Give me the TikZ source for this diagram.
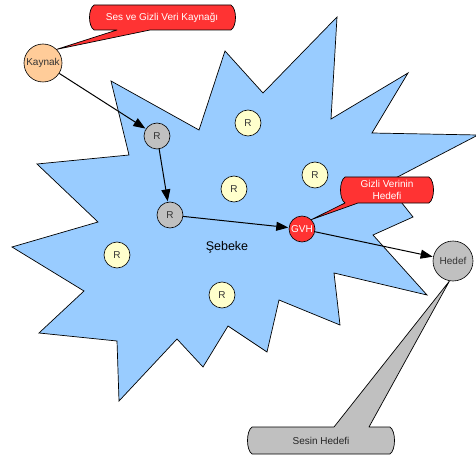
\documentclass[tikz,border=0pt]{standalone}
\usepackage{fontspec}
\setmainfont{Liberation Sans}
\usetikzlibrary{arrows.meta}
\definecolor{netblue}{HTML}{99CCFF}
\definecolor{routergray}{HTML}{C0C0C0}
\definecolor{idleyellow}{HTML}{FFFFCC}
\definecolor{srcorange}{HTML}{FFCC99}
\definecolor{noteRed}{HTML}{FF3333}
\tikzset{
  dev/.style={circle, draw=black, line width=0.6pt, inner sep=0pt,
    minimum size=26pt, font=\fontsize{10}{12}\selectfont, text=black!80},
  idle/.style={dev, fill=idleyellow},
  hop/.style={dev, fill=routergray},
  flow/.style={draw=black, line width=1pt,
    -{Triangle[length=12pt,width=9pt]}, shorten >=0.5pt},
  plain/.style={draw=black, line width=1pt},
  note/.style={draw=black, line width=0.7pt, line join=round},
  notetext/.style={font=\fontsize{10}{11.5}\selectfont, align=center, inner sep=0pt}
}
\begin{document}
\begin{tikzpicture}[x=1pt,y=-1pt]
\useasboundingbox (0,0) rectangle (476,457);

% network cloud
\draw[fill=netblue, draw=black, line width=0.7pt, line join=miter]
  (111,81) -- (199,130) -- (225,51) -- (263,93) -- (337,17) -- (331,119)
  -- (408,73) -- (372,133) -- (478,135) -- (386,183) -- (413,217)
  -- (373,235) -- (427,295) -- (334,273) -- (340,325) -- (279,300)
  -- (267,352) -- (228,326) -- (203,367) -- (177,339) -- (119,401)
  -- (117,341) -- (39,333) -- (84,291) -- (12,247) -- (98,222)
  -- (37,164) -- (129,155) -- cycle;

\node[font=\fontsize{12.5}{14}\selectfont] (net) at (227,247) {Şebeke};

% devices
\node[dev, fill=srcorange, minimum size=38pt] (kaynak) at (43,63) {Kaynak};
\node[hop] (r1) at (157,136) {R};
\node[hop] (r2) at (170,215) {R};
\node[dev, fill=noteRed, text=white] (gvh) at (302,229) {GVH};
\node[dev, fill=routergray, minimum size=40pt] (hedef) at (453,261) {Hedef};
\node[idle] (ra) at (248,123) {R};
\node[idle] (rb) at (234,189) {R};
\node[idle] (rc) at (315,175) {R};
\node[idle] (rd) at (117,255) {R};
\node[idle] (re) at (222,295) {R};

% traffic path
\draw[flow] (kaynak) -- (r1);
\draw[flow] (r1) -- (r2);
\draw[flow] (r2) -- (gvh);
\draw[flow] (gvh) -- (hedef);

% callouts
\draw[note, fill=noteRed]
  (94,5) -- (231,5) .. controls (237,9) and (237,26) .. (231,30)
  -- (150,30) -- (kaynak.45) -- (117,30) -- (94,30)
  .. controls (88,26) and (88,9) .. (94,5) -- cycle;
\node[notetext, text=white] (srcnote) at (162,17.5) {Ses ve Gizli Veri Kaynağı};

\draw[note, fill=noteRed]
  (345,177) -- (429,177) .. controls (435,181) and (435,199) .. (429,203)
  -- (358,203) -- (gvh.45) -- (345,203)
  .. controls (339,199) and (339,181) .. (345,177) -- cycle;
\node[notetext, text=white] (gvhnote) at (387,190) {Gizli Verinin\\Hedefi};

\draw[note, fill=routergray]
  (252,427) -- (334,427) -- (hedef.-100) -- (369,427) -- (390,427)
  .. controls (396,431) and (396,450) .. (390,454) -- (252,454)
  .. controls (246,450) and (246,431) .. (252,427) -- cycle;
\node[notetext, text=black!85] (dstnote) at (321,441) {Sesin Hedefi};
\end{tikzpicture}
\end{document}
